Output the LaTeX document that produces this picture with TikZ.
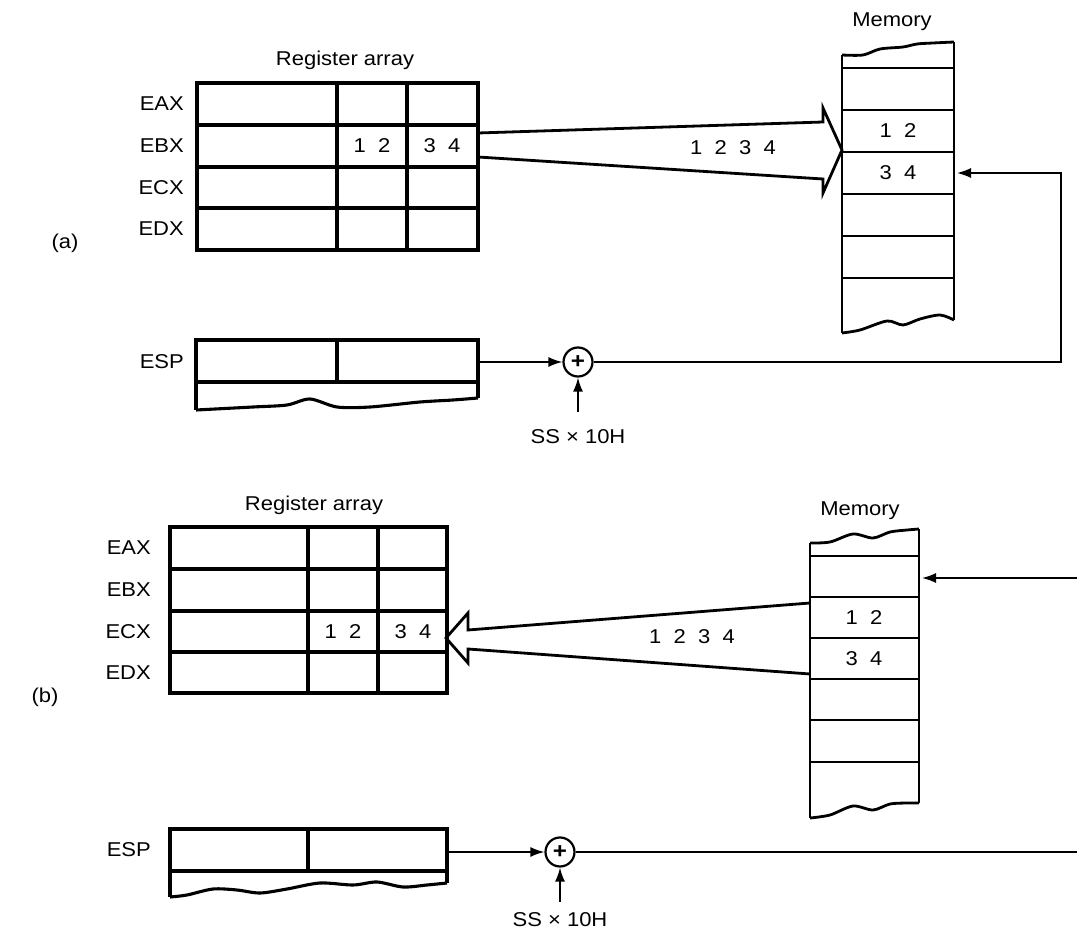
\documentclass[tikz,border=0pt]{standalone}
\usepackage{fontspec}
\setmainfont{Liberation Sans}[FakeStretch=1.1]
\usetikzlibrary{arrows.meta}
\begin{document}
\begin{tikzpicture}[x=1pt,y=-1pt,
  regbox/.style={line width=3.1pt},
  memline/.style={line width=2.8pt},
  conn/.style={line width=1.6pt},
  tipped/.style={-{Latex[length=14pt,width=10pt]}},
  lbl/.style={font=\fontsize{20}{22}\selectfont, inner sep=0pt},
  adder/.style={circle,draw,line width=2.2pt,minimum size=29pt,inner sep=0pt,font=\fontsize{22}{22}\selectfont\bfseries},
  bigarrow/.style={line width=2.8pt, line join=miter}
]
\useasboundingbox (0,0) rectangle (1077,933);

% ================= (a) =================
\node[lbl] (laba) at (65,243) {(a)};
\node[lbl] (rega) at (345,60) {Register array};
\draw[regbox] (197,83) rectangle (478,250);
\foreach \y in {125,167,208} \draw[regbox] (197,\y) -- (478,\y);
\foreach \x in {337,407} \draw[regbox] (\x,83) -- (\x,250);
\node[lbl,anchor=east] (eaxa) at (184,104) {EAX};
\node[lbl,anchor=east] (ebxa) at (184,146) {EBX};
\node[lbl,anchor=east] (ecxa) at (184,188) {ECX};
\node[lbl,anchor=east] (edxa) at (184,229) {EDX};
\node[lbl] (r12a) at (372,146) {1~~2};
\node[lbl] (r34a) at (442,146) {3~~4};

% memory (a)
\node[lbl] (mtita) at (892,22) {Memory};
\draw[memline] plot[smooth] coordinates {(842,55) (863,55) (880,49) (903,47) (917,44) (933,43) (954,42)};
\draw[memline] (842,55) -- (842,333);
\draw[memline] (954,42) -- (954,320);
\foreach \y in {68,110,152,194,236,278} \draw[memline] (842,\y) -- (954,\y);
\draw[memline] plot[smooth] coordinates {(842,333) (860,330) (887,321) (903,325) (920,319) (940,315) (954,320)};
\node[lbl] (m12a) at (898,131) {1~~2};
\node[lbl] (m34a) at (898,173) {3~~4};
\coordinate (mema) at (957,173);

% big arrow (a)
\draw[bigarrow] (478,133) -- (823,122) -- (823,108) -- (842,150) -- (823,193) -- (823,179) -- (478,157);
\node[lbl] (dataa) at (733,148) {1~~2~~3~~4};

% ESP (a)
\node[lbl,anchor=east] (espla) at (184,362) {ESP};
\draw[regbox] (196,340) rectangle (478,382);
\draw[regbox] (337,340) -- (337,382);
\draw[regbox] (196,382) -- (196,410);
\draw[regbox] (478,382) -- (478,398);
\draw[regbox] plot[smooth] coordinates {(196,410) (253,407) (287,405) (310,399) (337,407) (370,407) (420,402) (453,400) (478,398)};
\coordinate (espa) at (478,362);
\node[adder] (adda) at (578,362) {+};
\node[lbl] (ssa) at (578,437) {SS × 10H};
\coordinate (ssta) at (578,412);
\coordinate (ra) at (1061,362);
\draw[conn,tipped] (espa) -- (adda);
\draw[conn,tipped] (ssta) -- (adda);
\draw[conn,tipped] (adda) -- (ra) |- (mema);

% ================= (b) =================
\node[lbl] (labb) at (45,697) {(b)};
\node[lbl] (regb) at (314,505) {Register array};
\draw[regbox] (170,527) rectangle (447,693);
\foreach \y in {569,611,652} \draw[regbox] (170,\y) -- (447,\y);
\foreach \x in {308,378} \draw[regbox] (\x,527) -- (\x,693);
\node[lbl,anchor=east] (eaxb) at (151,548) {EAX};
\node[lbl,anchor=east] (ebxb) at (151,590) {EBX};
\node[lbl,anchor=east] (ecxb) at (151,632) {ECX};
\node[lbl,anchor=east] (edxb) at (151,673) {EDX};
\node[lbl] (r12b) at (343,632) {1~~2};
\node[lbl] (r34b) at (413,632) {3~~4};

% memory (b)
\node[lbl] (mtitb) at (860,511) {Memory};
\draw[memline] plot[smooth] coordinates {(810,543) (830,542) (853,534) (873,538) (890,532) (907,530) (919,529)};
\draw[memline] (810,543) -- (810,818);
\draw[memline] (919,529) -- (919,803);
\foreach \y in {556,597,638,679,720,762} \draw[memline] (810,\y) -- (919,\y);
\draw[memline] plot[smooth] coordinates {(810,818) (830,815) (853,806) (873,810) (890,804) (907,803) (919,803)};
\node[lbl] (m12b) at (864,618) {1~~2};
\node[lbl] (m34b) at (864,659) {3~~4};
\coordinate (memb) at (922,578);
\coordinate (inb) at (1077,578);
\draw[conn,tipped] (inb) -- (memb);

% big arrow (b)
\draw[bigarrow] (810,603) -- (468,630) -- (468,613) -- (446,638) -- (468,663) -- (468,649) -- (810,674);
\node[lbl] (datab) at (692,637) {1~~2~~3~~4};

% ESP (b)
\node[lbl,anchor=east] (esplb) at (151,850) {ESP};
\draw[regbox] (170,829) rectangle (447,871);
\draw[regbox] (308,829) -- (308,871);
\draw[regbox] (170,871) -- (170,897);
\draw[regbox] (447,871) -- (447,883);
\draw[regbox] plot[smooth] coordinates {(170,897) (187,895) (213,889) (237,890) (260,893) (287,889) (320,883) (353,885) (377,882) (403,887) (427,885) (447,883)};
\coordinate (espb) at (447,852);
\node[adder] (addb) at (560,852) {+};
\node[lbl] (ssb) at (560,920) {SS × 10H};
\coordinate (sstb) at (560,902);
\coordinate (rb) at (1077,852);
\draw[conn,tipped] (espb) -- (addb);
\draw[conn,tipped] (sstb) -- (addb);
\draw[conn] (addb) -- (rb);
\end{tikzpicture}
\end{document}
